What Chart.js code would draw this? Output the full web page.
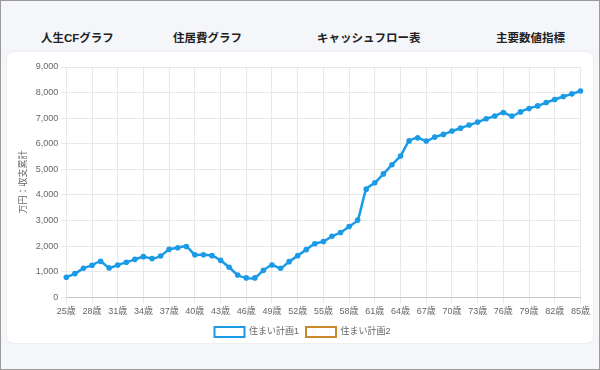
<!DOCTYPE html>
<html lang="ja">
<head>
<meta charset="utf-8">
<script src="https://cdn.jsdelivr.net/npm/chart.js@4.4.1/dist/chart.umd.min.js"></script>
<style>
  html, body { margin: 0; padding: 0; }
  body {
    width: 600px; height: 370px; box-sizing: border-box;
    border: 1px solid #9a9a9a; background: #f5f6fa; position: relative; overflow: hidden;
    font-family: 'Liberation Sans', 'Noto Sans CJK JP', sans-serif;
  }
  .tab { position: absolute; top: 28px; font-size: 11.5px; font-weight: bold; color: #222; white-space: nowrap; }
  .card {
    position: absolute; left: 6px; top: 51px; width: 586px; height: 291px;
    background: #fff; border-radius: 6px; box-shadow: 0 0 2px rgba(0,0,0,0.12);
  }
  .card canvas { position: absolute; left: 0; top: 0; }
</style>
</head>
<body>
<div class="tab" style="left:40px">人生CFグラフ</div>
<div class="tab" style="left:172px">住居費グラフ</div>
<div class="tab" style="left:316px">キャッシュフロー表</div>
<div class="tab" style="left:495px">主要数値指標</div>
<div class="card"><canvas id="cfChart" width="586" height="295"></canvas></div>
<script>
/* ================= DATA ================= */
const ages = [];
for (let a = 25; a <= 85; a++) ages.push(a + '歳');

const plan1 = [
  780, 920, 1130, 1250, 1400, 1145, 1260, 1365, 1480, 1585,
  1510, 1610, 1870, 1935, 1985, 1660, 1660, 1625, 1440, 1170,
  870, 755, 755, 1050, 1260, 1130, 1390, 1625, 1860, 2090,
  2180, 2380, 2530, 2765, 3015, 4225, 4470, 4820, 5180, 5520,
  6110, 6230, 6105, 6260, 6365, 6495, 6610, 6730, 6845, 6975,
  7085, 7220, 7080, 7245, 7380, 7480, 7610, 7730, 7845, 7950,
  8060
];
const plan2 = [];

const seriesNames = ['住まい計画1', '住まい計画2'];
const yTitle = '万円：収支累計';

/* ================= CHART ================= */
const FONT = "'Liberation Sans', 'Noto Sans CJK JP', sans-serif";
const BLUE = '#1b9be6';
const ORANGE = '#c98a2c';

new Chart(document.getElementById('cfChart'), {
  type: 'line',
  data: {
    labels: ages,
    datasets: [
      {
        label: seriesNames[0], data: plan1,
        borderColor: BLUE, backgroundColor: '#fff', borderWidth: 2.5,
        pointRadius: 2.8, pointBackgroundColor: BLUE, pointBorderColor: BLUE,
        pointBorderWidth: 0, tension: 0.2
      },
      {
        label: seriesNames[1], data: plan2,
        borderColor: ORANGE, backgroundColor: '#fff', borderWidth: 2.5,
        pointRadius: 2.8, pointBackgroundColor: ORANGE, tension: 0.2
      }
    ]
  },
  options: {
    responsive: false,
    animation: false,
    layout: { padding: { left: 7, right: 2, top: 15, bottom: 0 } },
    plugins: {
      tooltip: { enabled: false },
      legend: {
        position: 'bottom',
        labels: {
          boxWidth: 30, boxHeight: 10, padding: 7,
          color: '#666', font: { family: FONT, size: 9 },
          generateLabels: chart => Chart.defaults.plugins.legend.labels.generateLabels(chart)
            .map(l => Object.assign(l, { lineWidth: 2 }))
        }
      }
    },
    scales: {
      x: {
        grid: { color: '#e8e8e8', tickLength: 6 },
        border: { color: '#c8c8c8' },
        ticks: {
          color: '#666', font: { family: FONT, size: 9 },
          maxRotation: 0, autoSkip: true, maxTicksLimit: 21, padding: 3
        }
      },
      y: {
        min: 0, max: 9000,
        grid: { color: '#e8e8e8', tickLength: 5 },
        border: { color: '#e8e8e8' },
        ticks: {
          stepSize: 1000, color: '#666', font: { family: FONT, size: 9 }, padding: 3,
          callback: v => v.toLocaleString('en-US')
        },
        title: { display: true, text: yTitle, color: '#666', font: { family: FONT, size: 9 } }
      }
    }
  }
});
</script>
</body>
</html>
